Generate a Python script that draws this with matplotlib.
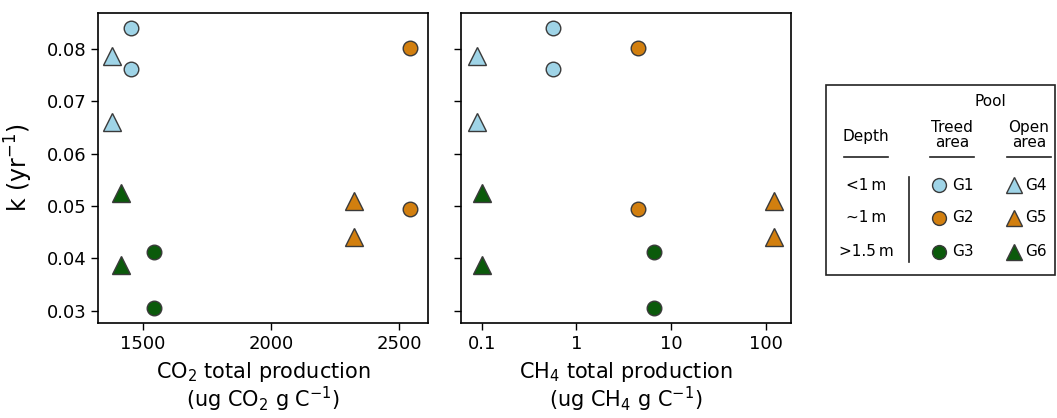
import matplotlib.pyplot as plt
import matplotlib.ticker as mticker
from matplotlib.lines import Line2D

# Data: one list per group
groups = ['G1', 'G2', 'G3', 'G4', 'G5', 'G6']
k_values = {
    'G1': [0.0841, 0.0762],
    'G2': [0.0803, 0.0495],
    'G3': [0.0413, 0.0305],
    'G4': [0.0787, 0.0661],
    'G5': [0.0509, 0.0440],
    'G6': [0.0525, 0.0388],
}
co2_prod = {
    'G1': [1453, 1453],
    'G2': [2541, 2541],
    'G3': [1544, 1544],
    'G4': [1381, 1381],
    'G5': [2323, 2323],
    'G6': [1415, 1415],
}
ch4_prod = {
    'G1': [0.566, 0.566],
    'G2': [4.52, 4.52],
    'G3': [6.55, 6.55],
    'G4': [0.089, 0.089],
    'G5': [123, 123],
    'G6': [0.101, 0.101],
}
depth_labels = ['<1\u2009m', '~1\u2009m', '>1.5\u2009m']

colors = {'G1': '#9fd4e7', 'G2': '#d27f0f', 'G3': '#0b5a0b',
          'G4': '#9fd4e7', 'G5': '#d27f0f', 'G6': '#0b5a0b'}
markers = {'G1': 'o', 'G2': 'o', 'G3': 'o', 'G4': '^', 'G5': '^', 'G6': '^'}
sizes = {'o': 10.5, '^': 12.5}
edge = '#3a3a3a'

plt.rcParams['font.family'] = ['DejaVu Sans']

fig = plt.figure(figsize=(10.57, 4.18), dpi=100)
ax1 = fig.add_axes([0.0927, 0.2273, 0.3122, 0.7416])
ax2 = fig.add_axes([0.4361, 0.2273, 0.3122, 0.7416])


def draw(ax, xdata):
    for g in groups:
        m = markers[g]
        ax.plot(xdata[g], k_values[g], linestyle='none', marker=m,
                markersize=sizes[m], markerfacecolor=colors[g],
                markeredgecolor=edge, markeredgewidth=1.0, zorder=3)
    ax.set_ylim(0.02765, 0.0869)
    ax.set_yticks([0.03, 0.04, 0.05, 0.06, 0.07, 0.08])
    ax.tick_params(labelsize=13, length=5, width=1.0, direction='out')
    for sp in ax.spines.values():
        sp.set_linewidth(1.2)


draw(ax1, co2_prod)
ax1.set_xlim(1325, 2613)
ax1.set_xticks([1500, 2000, 2500])
ax1.yaxis.set_major_formatter(mticker.FormatStrFormatter('%.2f'))
ax1.set_ylabel('k (yr$^{-1}$)', fontsize=17, labelpad=8)
ax1.set_xlabel('CO$_2$ total production\n(ug CO$_2$ g C$^{-1}$)', fontsize=15,
               labelpad=5, linespacing=1.05)

draw(ax2, ch4_prod)
ax2.set_xscale('log')
ax2.set_xlim(0.0604, 185)
ax2.set_xticks([0.1, 1, 10, 100])
ax2.xaxis.set_major_formatter(mticker.FixedFormatter(['0.1', '1', '10', '100']))
ax2.xaxis.set_minor_locator(mticker.NullLocator())
ax2.set_yticklabels([])
ax2.set_xlabel('CH$_4$ total production\n(ug CH$_4$ g C$^{-1}$)', fontsize=15,
               labelpad=5, linespacing=1.05)

# Legend panel drawn in pixel coordinates
W, H = 1057, 418
lax = fig.add_axes([0, 0, 1, 1], facecolor='none')
lax.set_xlim(0, W)
lax.set_ylim(H, 0)
lax.axis('off')
lax.add_patch(plt.Rectangle((826, 85), 229, 190, fill=False, edgecolor='#222222',
                            linewidth=1.2))
fs = 11
lax.text(990, 101, 'Pool', ha='center', va='center', fontsize=fs)
lax.text(866, 136, 'Depth', ha='center', va='center', fontsize=fs)
lax.text(952, 135, 'Treed\narea', ha='center', va='center', fontsize=fs, linespacing=1.0)
lax.text(1029, 135, 'Open\narea', ha='center', va='center', fontsize=fs, linespacing=1.0)
for x0, x1 in [(844, 888), (930, 974), (1007, 1051)]:
    lax.add_line(Line2D([x0, x1], [157, 157], color='#222222', linewidth=1.2))
lax.add_line(Line2D([909, 909], [177, 262], color='#222222', linewidth=1.2))

row_y = [185, 218, 252]
for i, y in enumerate(row_y):
    lax.text(866, y, depth_labels[i], ha='center', va='center', fontsize=fs)
    gc = groups[i]
    go = groups[i + 3]
    lax.plot([939], [y], marker='o', markersize=10, markerfacecolor=colors[gc],
             markeredgecolor=edge, markeredgewidth=1.0, linestyle='none')
    lax.text(952, y, gc, ha='left', va='center', fontsize=fs)
    lax.plot([1014], [y], marker='^', markersize=11, markerfacecolor=colors[go],
             markeredgecolor=edge, markeredgewidth=1.0, linestyle='none')
    lax.text(1025, y, go, ha='left', va='center', fontsize=fs)

fig.savefig('out.png', dpi=100)
